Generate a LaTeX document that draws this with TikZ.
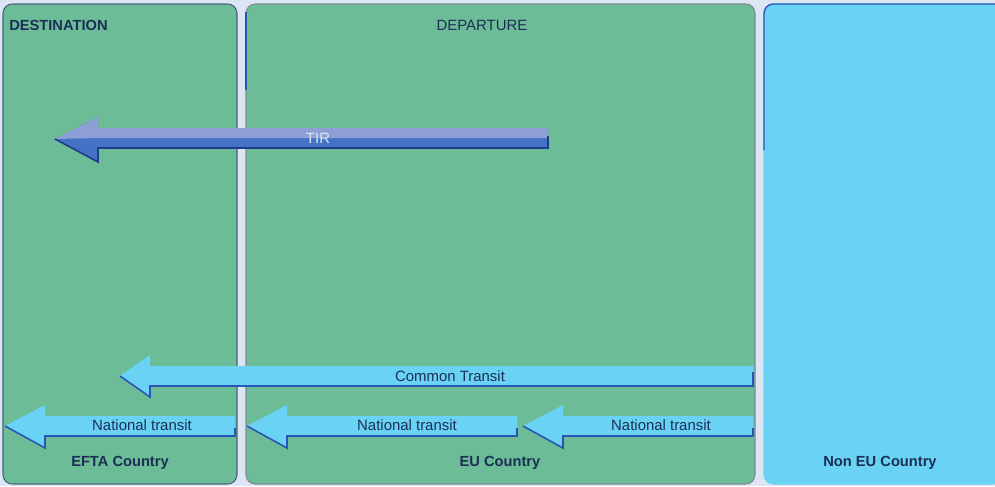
\documentclass[tikz,border=0pt]{standalone}
\usepackage{fontspec}
\setmainfont{Liberation Sans}
\definecolor{pagebg}{HTML}{DCE6F2}
\definecolor{eugreen}{HTML}{6DBC98}
\definecolor{noneu}{HTML}{6AD3F5}
\definecolor{navytxt}{HTML}{1B2F55}
\definecolor{edgeblue}{HTML}{2A55B8}
\definecolor{tirdark}{HTML}{4472C4}
\definecolor{tirlight}{HTML}{8E9ED6}
\tikzset{
  panel/.style={rounded corners=7, line width=0.8pt},
  transitarrow/.style={fill=noneu, draw=none},
  arrowedge/.style={draw=edgeblue, line width=1.2pt, line join=miter},
  arrowlabel/.style={inner sep=0.75pt, text=navytxt, font=\fontsize{11.2}{13}\selectfont},
  countrylabel/.style={inner sep=0.75pt, text=navytxt, font=\fontsize{11}{13}\selectfont\bfseries},
}
\begin{document}
\begin{tikzpicture}[x=0.75pt,y=0.75pt,yscale=-1,xscale=1]
%set diagram to the size of the page
\useasboundingbox (0,0) rectangle (995,486);
\clip (0,0) rectangle (995,486);
\fill [pagebg] (0,0) rectangle (995,486);

%Shape: Rounded Rectangle [EFTA]
\draw [panel, draw={rgb, 255:red, 70; green, 100; blue, 125}, fill=eugreen] (3,4) rectangle (237,484);
%Shape: Rounded Rectangle [EU]
\draw [panel, draw={rgb, 255:red, 125; green, 140; blue, 150}, fill=eugreen] (246,4) rectangle (755,484);
\draw [edgeblue, line width=0.8pt] (246,12) -- (246,90);
%Shape: Rounded Rectangle [Non EU]
\draw [panel, draw=noneu, fill=noneu] (764,4) rectangle (1003,484);
\draw [edgeblue, line width=1pt, rounded corners=7] (764,150) -- (764,4) -- (1003,4);

%Shape: Arrow [TIR]
\fill [tirdark] (55,139) -- (98,117) -- (98,128) -- (548,128) -- (548,148) -- (98,148) -- (98,162) -- cycle;
\fill [tirlight] (55,139) -- (98,117) -- (98,128) -- (548,128) -- (548,138) -- (98,138) -- cycle;
\draw [draw={rgb, 255:red, 30; green, 60; blue, 140}, line width=1.2pt] (55,139) -- (98,162) -- (98,148) -- (548,148) -- (548,136);
%Shape: Arrow [Common Transit]
\fill [transitarrow] (120,376) -- (150,355) -- (150,366) -- (753,366) -- (753,386) -- (150,386) -- (150,397) -- cycle;
\draw [arrowedge] (120,376) -- (150,397) -- (150,386) -- (753,386) -- (753,372);
%Shape: Arrow [National transit EFTA]
\fill [transitarrow] (5,426) -- (45,405) -- (45,416) -- (235,416) -- (235,436) -- (45,436) -- (45,448) -- cycle;
\draw [arrowedge] (5,426) -- (45,448) -- (45,436) -- (235,436) -- (235,428);
%Shape: Arrow [National transit EU]
\fill [transitarrow] (247,426) -- (287,405) -- (287,416) -- (517,416) -- (517,436) -- (287,436) -- (287,448) -- cycle;
\draw [arrowedge] (247,426) -- (287,448) -- (287,436) -- (517,436) -- (517,428);
%Shape: Arrow [National transit Non EU]
\fill [transitarrow] (523,426) -- (563,405) -- (563,416) -- (753,416) -- (753,436) -- (563,436) -- (563,448) -- cycle;
\draw [arrowedge] (523,426) -- (563,448) -- (563,436) -- (753,436) -- (753,428);

% Text Node
\node (destination) [countrylabel, anchor=west] at (8,25) {DESTINATION};
% Text Node
\node (departure) [arrowlabel] at (482,25) {DEPARTURE};
% Text Node
\node (tir) [inner sep=0.75pt, text={rgb, 255:red, 225; green, 230; blue, 245}, font=\fontsize{11.2}{13}\selectfont] at (318,138) {TIR};
% Text Node
\node (common) [arrowlabel] at (450,376) {Common Transit};
% Text Node
\node (natefta) [arrowlabel] at (142,425) {National transit};
% Text Node
\node (nateu) [arrowlabel] at (407,425) {National transit};
% Text Node
\node (natnoneu) [arrowlabel] at (661,425) {National transit};
% Text Node
\node (efta) [countrylabel] at (120,463) {EFTA Country};
% Text Node
\node (eu) [countrylabel] at (500,463) {EU Country};
% Text Node
\node (noneucountry) [countrylabel] at (880,463) {Non EU Country};
\end{tikzpicture}
\end{document}
